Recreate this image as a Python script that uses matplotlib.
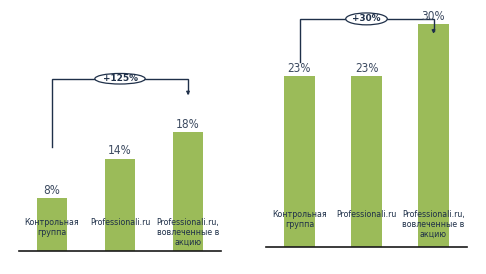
import matplotlib
matplotlib.use("Agg")
import matplotlib.pyplot as plt
from matplotlib.patches import Ellipse

categories = ["Контрольная\nгруппа", "Professionali.ru", "Professionali.ru,\nвовлеченные в\nакцию"]
left_values = [8, 14, 18]
right_values = [23, 23, 30]
left_labels = ["8%", "14%", "18%"]
right_labels = ["23%", "23%", "30%"]
left_growth = "+125%"
right_growth = "+30%"

W, H = 486, 274
BAR = "#9BBB59"
TXT = "#1F3049"
PCT = "#3C4A60"

fig = plt.figure(figsize=(W / 100, H / 100), dpi=100)
fig.patch.set_facecolor("white")


def px_axes(x0, x1, ybase, ytop):
    return fig.add_axes([x0 / W, (H - ybase) / H, (x1 - x0) / W, (ybase - ytop) / H])


def draw(ax, values, labels, xlim, ylim, width, label_y, pct_off, pct_font):
    ax.set_xlim(*xlim)
    ax.set_ylim(*ylim)
    x = list(range(len(values)))
    ax.bar(x, values, width=width, color=BAR, zorder=2)
    for xi, v, lab in zip(x, values, labels):
        ax.text(xi, v + pct_off, lab, ha="center", va="bottom", fontsize=pct_font,
                color=PCT, family=["DejaVu Sans"], fontstretch="condensed", zorder=4)
    for xi, c in zip(x, categories):
        ax.text(xi, label_y, c, ha="center", va="top", fontsize=5.7, color=TXT,
                linespacing=1.15, zorder=4)
    for s in ["top", "right", "left"]:
        ax.spines[s].set_visible(False)
    ax.spines["bottom"].set_color("#1a1a1a")
    ax.spines["bottom"].set_linewidth(1.2)
    ax.set_xticks([])
    ax.set_yticks([])
    ax.patch.set_alpha(0)


def bracket(ax, x0, y0, ytop, x1, y1, text, ew, eh, xc):
    ax.plot([x0, x0, x1, x1], [y0, ytop, ytop, y1 + 0.4], color=TXT, lw=1.0,
            zorder=3, solid_joinstyle="miter", clip_on=False)
    ax.annotate("", xy=(x1, y1), xytext=(x1, y1 + 0.6),
                arrowprops=dict(arrowstyle="-|>", color=TXT, lw=0.8,
                                mutation_scale=5, shrinkA=0, shrinkB=0),
                annotation_clip=False)
    e = Ellipse((xc, ytop), ew, eh, facecolor="white", edgecolor=TXT, lw=0.9,
                zorder=5, clip_on=False)
    ax.add_patch(e)
    ax.text(xc, ytop, text, ha="center", va="center", fontsize=6.4,
            fontweight="bold", color=TXT, zorder=6)


# left chart: baseline y=251px, 6.6 px per %
axL = px_axes(19, 221, 251, 10)
draw(axL, left_values, left_labels, (-0.485, 2.485), (0, 241 / 6.6), 0.44,
     33 / 6.6, 0.25, 8.5)
bracket(axL, 0, 15.8, 26.1, 2.0, 23.6, left_growth, 0.74, 1.6, 1.0)

# right chart: baseline y=247px, 7.43 px per %
axR = px_axes(266, 467, 247, 5)
draw(axR, right_values, right_labels, (-0.5, 2.5), (0, 242 / 7.43), 0.46,
     37 / 7.43, 0.2, 8.5)
bracket(axR, 0, 24.9, 30.7, 2.0, 28.7, right_growth, 0.62, 1.6, 1.0)

fig.savefig("out.png", dpi=100, facecolor="white")
